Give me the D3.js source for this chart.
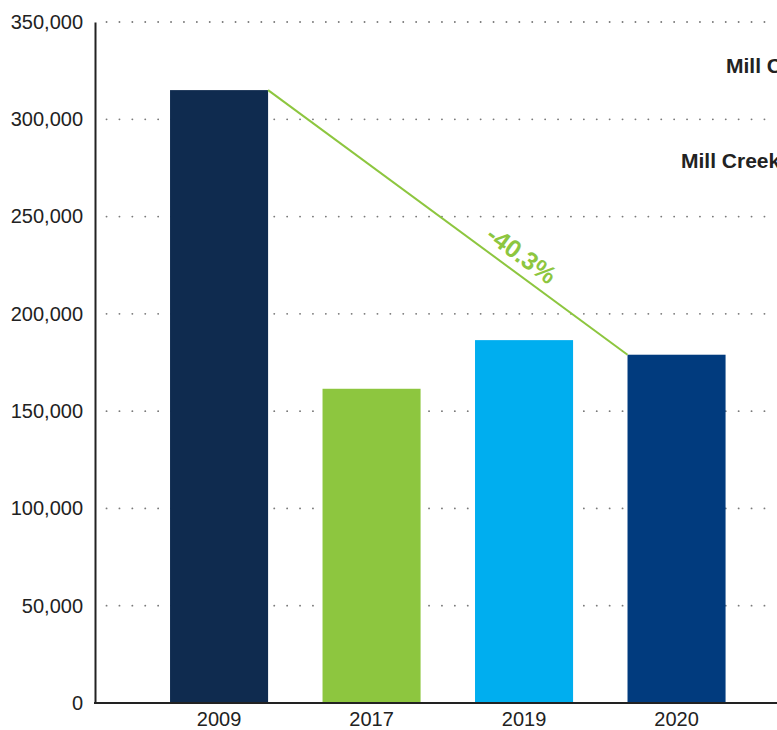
<!DOCTYPE html>
<html>
<head>
<meta charset="utf-8">
<script src="https://cdn.jsdelivr.net/npm/d3@7"></script>
<style>
  html, body { margin: 0; padding: 0; background: #fff; overflow: hidden; }
  svg { display: block; font-family: "Liberation Sans", Arial, Helvetica, sans-serif; }
</style>
</head>
<body>
<svg id="chart" width="777" height="730"></svg>
<script>
// Annual totals by year
const years = ["2009", "2017", "2019", "2020"];
const values = [315000, 161500, 186500, 179000];
const barColors = ["#0f2b4f", "#8dc63f", "#00aeef", "#013b7e"];
const yTicks = [0, 50000, 100000, 150000, 200000, 250000, 300000, 350000];
const changeLabel = "-40.3%";
const legendLabels = ["Mill Creek", "Mill Creek"];

const svg = d3.select("#chart");

const y = d3.scaleLinear().domain([0, 350000]).range([703, 22]);
const x = d3.scaleBand().domain(years).range([115.6, 780]).padding(0.357);

const axisX = 95;

// Dotted gridlines
svg.append("g")
  .selectAll("line")
  .data(yTicks.filter(d => d > 0))
  .join("line")
  .attr("x1", 106.5).attr("x2", 777)
  .attr("y1", d => y(d)).attr("y2", d => y(d))
  .attr("stroke", "#7a7a7a")
  .attr("stroke-width", 1.8)
  .attr("stroke-linecap", "round")
  .attr("stroke-dasharray", "0.1,12.8");

// Bars
svg.append("g")
  .selectAll("rect")
  .data(years)
  .join("rect")
  .attr("x", d => x(d))
  .attr("width", x.bandwidth())
  .attr("y", (d, i) => y(values[i]))
  .attr("height", (d, i) => y(0) - y(values[i]))
  .attr("fill", (d, i) => barColors[i]);

// Y axis
const yAxis = d3.axisLeft(y)
  .tickValues(yTicks)
  .tickSize(0)
  .tickPadding(12)
  .tickFormat(d3.format(","));
const gy = svg.append("g").attr("transform", `translate(${axisX},0)`).call(yAxis);
gy.select(".domain").attr("stroke", "#222").attr("stroke-width", 2);
gy.selectAll(".tick text")
  .attr("font-size", 20)
  .attr("fill", "#222")
  .attr("font-family", "Liberation Sans, Arial, sans-serif");

// X axis baseline and labels
const xAxis = d3.axisBottom(x).tickSize(0).tickPadding(9);
const gx = svg.append("g").attr("transform", `translate(0,${y(0)})`).call(xAxis);
gx.select(".domain").remove();
svg.append("line")
  .attr("x1", axisX - 1).attr("x2", 777)
  .attr("y1", y(0)).attr("y2", y(0))
  .attr("stroke", "#222").attr("stroke-width", 2);
gx.selectAll(".tick text")
  .attr("font-size", 20)
  .attr("fill", "#222")
  .attr("font-family", "Liberation Sans, Arial, sans-serif");

// Change line from first to last bar
const first = years[0], last = years[years.length - 1];
const p0 = [x(first) + x.bandwidth(), y(values[0])];
const p1 = [x(last), y(values[values.length - 1])];
svg.append("line")
  .attr("x1", p0[0]).attr("y1", p0[1])
  .attr("x2", p1[0]).attr("y2", p1[1])
  .attr("stroke", "#8dc63f")
  .attr("stroke-width", 2);

const dx = p1[0] - p0[0], dy = p1[1] - p0[1];
const len = Math.hypot(dx, dy);
const ux = dx / len, uy = dy / len;
const nx = uy, ny = -ux;
const t = 0.676 * len, off = 18;
const cx = p0[0] + ux * t + nx * off;
const cy = p0[1] + uy * t + ny * off;
const ang = Math.atan2(dy, dx) * 180 / Math.PI;
svg.append("text")
  .attr("transform", `translate(${cx},${cy}) rotate(${ang})`)
  .attr("text-anchor", "middle")
  .attr("dominant-baseline", "central")
  .attr("font-size", 25)
  .attr("font-weight", "bold")
  .attr("fill", "#8dc63f")
  .text(changeLabel);

// Legend labels on the right
const legendPos = [[726, 73], [681, 168]];
svg.append("g")
  .selectAll("text")
  .data(legendLabels)
  .join("text")
  .attr("x", (d, i) => legendPos[i][0])
  .attr("y", (d, i) => legendPos[i][1])
  .attr("font-size", 21)
  .attr("font-weight", "bold")
  .attr("fill", "#222")
  .text(d => d);
</script>
</body>
</html>
